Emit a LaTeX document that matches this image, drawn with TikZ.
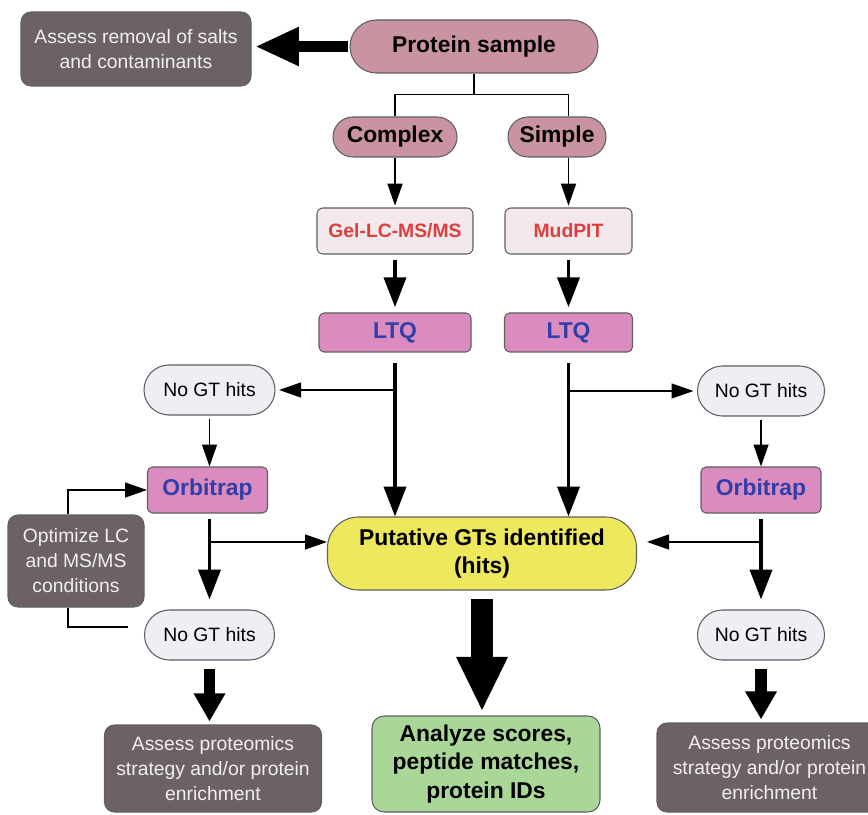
\documentclass[tikz,border=0pt]{standalone}
\usepackage{fontspec}
\setmainfont{Liberation Sans}
\usepackage{tikz}
\usetikzlibrary{arrows.meta,positioning,calc}
\definecolor{slate}{RGB}{109,97,104}
\definecolor{rose}{RGB}{202,147,161}
\definecolor{blush}{RGB}{243,232,235}
\definecolor{brickred}{RGB}{222,62,62}
\definecolor{orchid}{RGB}{218,140,192}
\definecolor{navy}{RGB}{48,62,165}
\definecolor{mist}{RGB}{238,238,245}
\definecolor{lemon}{RGB}{238,232,92}
\definecolor{sage}{RGB}{170,215,152}
\definecolor{edge}{RGB}{95,95,95}
\tikzset{
  thinarr/.style={-{Triangle[length=12.5pt,width=8.5pt]},line width=0.85pt},
  medarr/.style={-{Triangle[length=17pt,width=12.5pt]},line width=2.2pt},
  boldarr/.style={-{Triangle[length=16pt,width=17pt]},line width=6.3pt},
  bigarr/.style={-{Triangle[length=31pt,width=27pt]},line width=12.5pt},
  thinline/.style={line width=0.85pt}
}

\begin{document}
\begin{tikzpicture}[
  box/.style={draw=edge,line width=0.6pt,align=center,inner sep=2pt},
  darkbox/.style={box,fill=slate,text=white!94!black,rounded corners=0.2cm,
    font=\fontsize{11}{14.2}\selectfont},
  rosepill/.style={box,fill=rose,font=\fontsize{13}{15}\selectfont\bfseries},
  method/.style={box,fill=blush,text=brickred,rounded corners=0.12cm,
    minimum height=0.92cm,font=\fontsize{11}{13}\selectfont\bfseries},
  instr/.style={box,fill=orchid,text=navy,rounded corners=0.1cm,
    font=\fontsize{13}{15}\selectfont\bfseries},
  nohit/.style={box,fill=mist,rounded corners=0.5cm,minimum height=1.00cm,
    font=\fontsize{11}{13}\selectfont},
  hitbox/.style={box,fill=lemon,rounded corners=0.62cm,minimum width=6.18cm,
    minimum height=1.46cm,font=\fontsize{13}{16}\selectfont\bfseries},
  resultbox/.style={box,fill=sage,rounded corners=0.24cm,minimum width=4.56cm,
    minimum height=1.92cm,font=\fontsize{13}{16}\selectfont\bfseries}
]
\useasboundingbox (0,0) rectangle (17.36,16.28);

% top of the flow
\node[darkbox,minimum width=4.60cm,minimum height=1.48cm] (salts) at (2.72,15.30)
  {Assess removal of salts\\and contaminants};
\node[rosepill,minimum width=4.96cm,minimum height=1.06cm,rounded corners=0.53cm]
  (sample) at (9.48,15.35) {Protein sample};
\node[rosepill,minimum width=2.48cm,minimum height=0.80cm,rounded corners=0.40cm]
  (complex) at (7.90,13.54) {Complex};
\node[rosepill,minimum width=1.96cm,minimum height=0.80cm,rounded corners=0.40cm]
  (simple) at (11.14,13.54) {Simple};

\node[method,minimum width=3.12cm] (gel) at (7.90,11.66) {Gel-LC-MS/MS};
\node[method,minimum width=2.54cm] (mudpit) at (11.37,11.66) {MudPIT};

\node[instr,minimum width=3.04cm,minimum height=0.78cm] (ltqL) at (7.90,9.63) {LTQ};
\node[instr,minimum width=2.56cm,minimum height=0.78cm] (ltqR) at (11.37,9.63) {LTQ};

% left branch
\node[nohit,minimum width=2.62cm] (nohitLa) at (4.19,8.48) {No GT hits};
\node[instr,minimum width=2.40cm,minimum height=0.92cm] (orbiL) at (4.15,6.48) {Orbitrap};
\node[darkbox,minimum width=2.72cm,minimum height=1.84cm] (optim) at (1.52,5.06)
  {Optimize LC\\and MS/MS\\conditions};
\node[nohit,minimum width=2.60cm] (nohitLb) at (4.19,3.58) {No GT hits};

% middle
\node[hitbox] (hits) at (9.64,5.21) {Putative GTs identified\\(hits)};

% right branch
\node[nohit,minimum width=2.54cm] (nohitRa) at (15.22,8.46) {No GT hits};
\node[instr,minimum width=2.40cm,minimum height=0.92cm] (orbiR) at (15.22,6.48) {Orbitrap};
\node[nohit,minimum width=2.54cm] (nohitRb) at (15.22,3.58) {No GT hits};

% bottom row
\node[darkbox,minimum width=4.34cm,minimum height=1.74cm] (assessL) at (4.26,0.91)
  {Assess proteomics\\strategy and/or protein\\enrichment};
\node[resultbox] (analyze) at (9.72,1.00) {Analyze scores,\\peptide matches,\\protein IDs};
\node[darkbox,minimum width=4.50cm,minimum height=1.78cm] (assessR) at (15.39,0.93)
  {Assess proteomics\\strategy and/or protein\\enrichment};

% connectors
\draw[boldarr,-{Triangle[length=25pt,width=20.5pt]},shorten <=1pt,shorten >=2pt]
  (sample.west) -- (sample.west -| salts.east);

\coordinate (split) at ($(sample.south)+(0,-0.42)$);
\draw[thinline] (sample.south) -- (split);
\draw[thinline] (complex.north) |- (split) -| (simple.north -| mudpit.north);

\draw[thinarr,shorten >=1pt] (complex.south) -- (gel.north);
\draw[thinarr,shorten >=1pt] (simple.south -| mudpit.north) -- (mudpit.north);
\draw[medarr,shorten <=3pt,shorten >=3pt] (gel.south) -- (ltqL.north);
\draw[medarr,shorten <=3pt,shorten >=3pt] (mudpit.south) -- (ltqR.north);

\draw[medarr,shorten <=0.2cm] (ltqL.south) -- (ltqL.south |- hits.north);
\draw[thinarr,shorten >=2pt] (ltqL.south |- nohitLa.east) -- (nohitLa.east);
\draw[medarr,shorten <=0.2cm] (ltqR.south) -- (ltqR.south |- hits.north);
\draw[thinarr,shorten >=2pt] (ltqR.south |- nohitRa.west) -- (nohitRa.west);

\draw[thinarr,shorten <=2pt] (nohitLa.south) -- (nohitLa.south |- orbiL.north);
\draw[medarr,shorten <=0.1cm,shorten >=0.2cm] (nohitLb.north |- orbiL.south) -- (nohitLb.north);
\draw[thinarr] ([yshift=0.23cm]hits.west -| nohitLb.north) -- ([yshift=0.23cm]hits.west);
\draw[thinarr] ([xshift=-0.16cm]optim.north) |- (orbiL.west);
\draw[thinline] ([xshift=-0.16cm]optim.south) |- ([xshift=-0.32cm,yshift=0.16cm]nohitLb.west);

\draw[thinarr,shorten <=2pt] (nohitRa.south) -- (orbiR.north);
\draw[medarr,shorten <=0.1cm,shorten >=0.2cm] (orbiR.south) -- (nohitRb.north);
\draw[thinarr,shorten >=0.2cm] ([yshift=0.23cm]hits.east -| orbiR.south) -- ([yshift=0.23cm]hits.east);

\draw[boldarr,shorten <=0.16cm,shorten >=0.06cm] (nohitLb.south) -- (nohitLb.south |- assessL.north);
\draw[boldarr,shorten <=0.16cm,shorten >=0.06cm] (nohitRb.south) -- (nohitRb.south |- assessR.north);
\draw[bigarr,shorten <=0.16cm,shorten >=0.08cm] (hits.south) -- (hits.south |- analyze.north);
\end{tikzpicture}
\end{document}
